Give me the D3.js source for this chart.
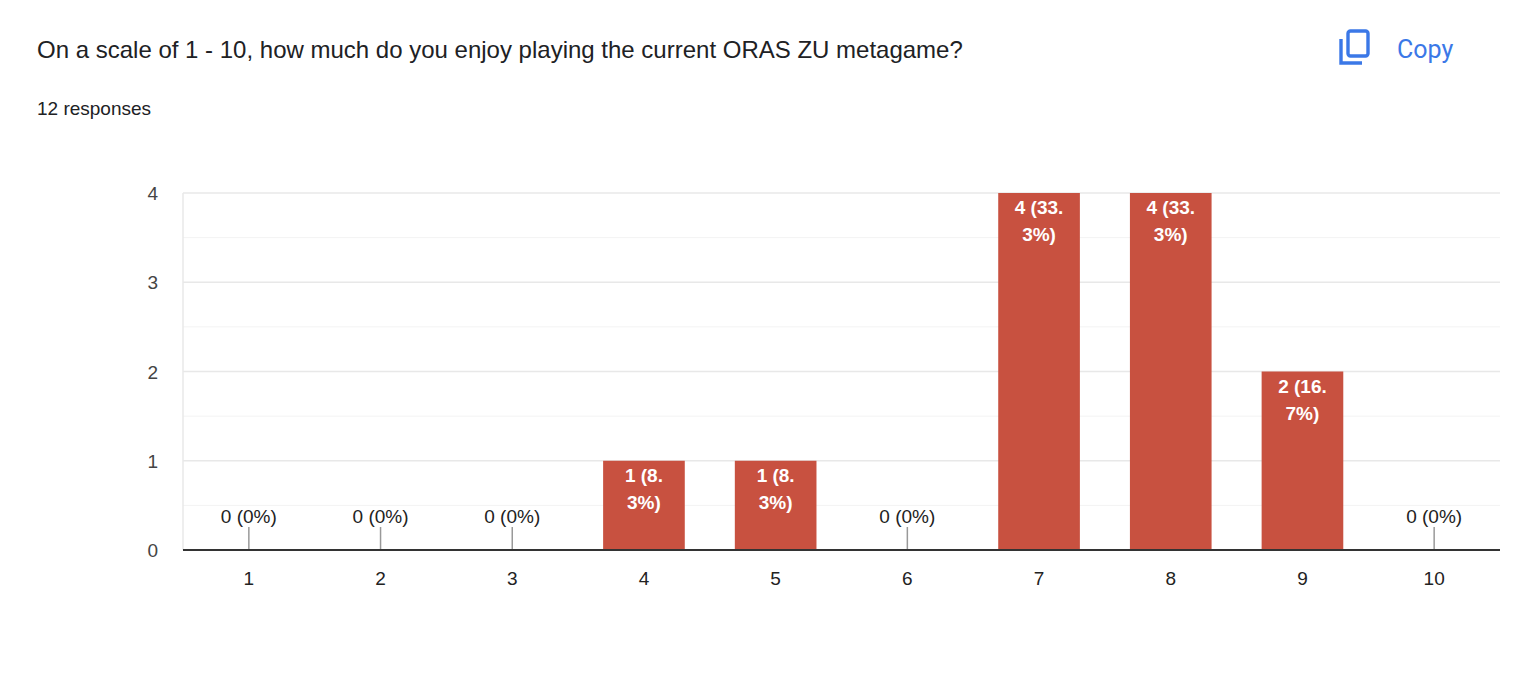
<!DOCTYPE html>
<html>
<head>
<meta charset="utf-8">
<script src="https://cdn.jsdelivr.net/npm/d3@7"></script>
<style>
  body { margin: 0; background: #fff; font-family: Arial, "Liberation Sans", sans-serif; }
</style>
</head>
<body>
<svg id="chart" width="1518" height="690"></svg>
<script>
const categories = ["1", "2", "3", "4", "5", "6", "7", "8", "9", "10"];
const counts = [0, 0, 0, 1, 1, 0, 4, 4, 2, 0];
// label lines as wrapped in the picture
const labelLines = [["0 (0%)"], ["0 (0%)"], ["0 (0%)"], ["1 (8.", "3%)"], ["1 (8.", "3%)"],
  ["0 (0%)"], ["4 (33.", "3%)"], ["4 (33.", "3%)"], ["2 (16.", "7%)"], ["0 (0%)"]];
const yTicks = [0, 1, 2, 3, 4];

const svg = d3.select("#chart");

svg.append("text").attr("x", 37).attr("y", 58).attr("font-size", 24).attr("fill", "#202124")
  .text("On a scale of 1 - 10, how much do you enjoy playing the current ORAS ZU metagame?");
svg.append("text").attr("x", 37).attr("y", 115).attr("font-size", 19).attr("fill", "#202124")
  .text("12 responses");

// copy icon
const icon = svg.append("g").attr("fill", "none").attr("stroke", "#3b78e7").attr("stroke-width", 3.4);
icon.append("rect").attr("x", 1348).attr("y", 31).attr("width", 20).attr("height", 25).attr("rx", 2.5);
icon.append("path").attr("d", "M1341,39 V63 H1362");
svg.append("text").attr("x", 1397).attr("y", 58).attr("font-size", 25).attr("fill", "#3b78e7")
  .attr("font-family", "Roboto, Arial, sans-serif").text("Copy");

const plotL = 183, plotR = 1500, plotT = 193, plotB = 550;
const x = d3.scaleBand().domain(categories).range([plotL, plotR]).paddingInner(0.38).paddingOuter(0.19);
const y = d3.scaleLinear().domain([0, 4]).range([plotB, plotT]);

// grid lines
const minor = d3.range(0.5, 4, 1);
svg.selectAll(".minor").data(minor).join("line")
  .attr("x1", plotL).attr("x2", plotR).attr("y1", d => y(d)).attr("y2", d => y(d))
  .attr("stroke", "#f3f3f3").attr("stroke-width", 1);
svg.selectAll(".major").data(yTicks.slice(1)).join("line")
  .attr("x1", plotL).attr("x2", plotR).attr("y1", d => y(d)).attr("y2", d => y(d))
  .attr("stroke", "#e8e8e8").attr("stroke-width", 1.5);
svg.append("line").attr("x1", plotL).attr("x2", plotL).attr("y1", plotT).attr("y2", plotB)
  .attr("stroke", "#e8e8e8").attr("stroke-width", 1.5);

svg.selectAll(".ytick").data(yTicks).join("text")
  .attr("x", 158).attr("y", d => y(d) + 7).attr("text-anchor", "end")
  .attr("font-size", 19).attr("fill", "#444").text(d => d);

const data = categories.map((c, i) => ({ c, v: counts[i], lines: labelLines[i] }));

svg.selectAll(".bar").data(data.filter(d => d.v > 0)).join("rect")
  .attr("x", d => x(d.c)).attr("width", x.bandwidth())
  .attr("y", d => y(d.v)).attr("height", d => plotB - y(d.v))
  .attr("fill", "#c85140");

// zero stems
svg.selectAll(".stem").data(data.filter(d => d.v === 0)).join("line")
  .attr("x1", d => x(d.c) + x.bandwidth() / 2).attr("x2", d => x(d.c) + x.bandwidth() / 2)
  .attr("y1", 527).attr("y2", plotB).attr("stroke", "#999").attr("stroke-width", 1.5);

// labels
data.forEach(d => {
  const cx = x(d.c) + x.bandwidth() / 2;
  if (d.v === 0) {
    svg.append("text").attr("x", cx).attr("y", 523).attr("text-anchor", "middle")
      .attr("font-size", 19).attr("fill", "#222").text(d.lines[0]);
  } else {
    d.lines.forEach((t, j) => {
      svg.append("text").attr("x", cx).attr("y", y(d.v) + 21 + j * 27).attr("text-anchor", "middle")
        .attr("font-size", 19).attr("font-weight", "bold").attr("fill", "#fff").text(t);
    });
  }
});

svg.append("line").attr("x1", plotL).attr("x2", plotR).attr("y1", plotB).attr("y2", plotB)
  .attr("stroke", "#333").attr("stroke-width", 2);

svg.selectAll(".xtick").data(categories).join("text")
  .attr("x", d => x(d) + x.bandwidth() / 2).attr("y", 585).attr("text-anchor", "middle")
  .attr("font-size", 19).attr("fill", "#222").text(d => d);
</script>
</body>
</html>
